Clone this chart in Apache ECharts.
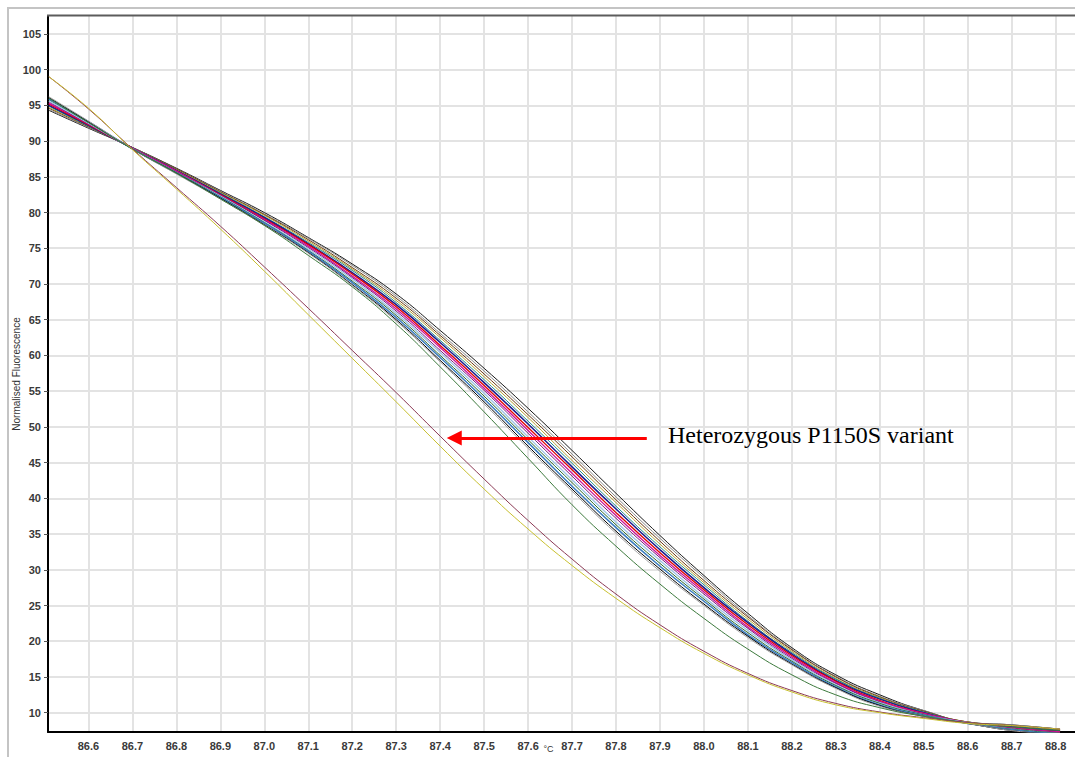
<!DOCTYPE html>
<html>
<head>
<meta charset="utf-8">
<script src="https://cdn.jsdelivr.net/npm/echarts@6/dist/echarts.min.js"></script>
<style>
  html, body { margin: 0; padding: 0; background: #ffffff; overflow: hidden; }
  #chart { width: 1075px; height: 757px; }
</style>
</head>
<body>
<div id="chart"></div>
<script>
// Melt temperatures (°C) at which each normalised curve is sampled
const temps = [86.51, 86.6, 86.7, 86.8, 86.9, 87.0, 87.1, 87.2, 87.3, 87.4, 87.5, 87.6,
               87.7, 87.8, 87.9, 88.0, 88.1, 88.2, 88.3, 88.4, 88.5, 88.6, 88.7, 88.81];

// Tick values for both axes
const xTicks = [86.6, 86.7, 86.8, 86.9, 87.0, 87.1, 87.2, 87.3, 87.4, 87.5, 87.6,
                87.7, 87.8, 87.9, 88.0, 88.1, 88.2, 88.3, 88.4, 88.5, 88.6, 88.7, 88.8];
const yTicks = [10, 15, 20, 25, 30, 35, 40, 45, 50, 55, 60, 65, 70, 75, 80, 85, 90, 95, 100, 105];

// Wild-type samples (normalised fluorescence)
const wt01 = [94.3, 91.8, 89.1, 86.2, 83.1, 80.0, 76.5, 72.8, 68.6, 63.5, 58.2, 52.6, 46.7, 40.7, 34.8, 29.2, 23.9, 19.1, 15.3, 12.5, 10.3, 8.7, 8.3, 7.7];
const wt02 = [94.4, 91.9, 89.1, 86.1, 83.0, 79.8, 76.4, 72.6, 68.3, 63.1, 57.8, 52.1, 46.2, 40.2, 34.4, 28.9, 23.6, 18.9, 15.1, 12.3, 10.3, 8.7, 8.3, 7.7];
const wt03 = [94.6, 92.0, 89.1, 86.1, 82.9, 79.7, 76.2, 72.3, 68.0, 62.8, 57.4, 51.7, 45.8, 39.8, 34.0, 28.5, 23.4, 18.8, 15.0, 12.2, 10.2, 8.7, 8.2, 7.6];
const wt04 = [94.7, 92.1, 89.1, 86.0, 82.8, 79.6, 76.0, 72.1, 67.7, 62.5, 57.0, 51.3, 45.3, 39.4, 33.6, 28.2, 23.1, 18.6, 14.8, 12.1, 10.1, 8.7, 8.1, 7.5];
const wt05 = [94.9, 92.1, 89.1, 85.9, 82.7, 79.4, 75.8, 71.9, 67.4, 62.1, 56.6, 50.8, 44.9, 38.9, 33.2, 27.9, 22.8, 18.4, 14.7, 12.0, 10.1, 8.6, 8.1, 7.5];
const wt06 = [95.0, 92.2, 89.0, 85.9, 82.6, 79.3, 75.6, 71.6, 67.1, 61.8, 56.2, 50.4, 44.4, 38.5, 32.8, 27.5, 22.6, 18.2, 14.5, 11.9, 10.0, 8.6, 8.0, 7.4];
const wt07 = [95.2, 92.3, 89.0, 85.8, 82.5, 79.1, 75.5, 71.4, 66.8, 61.4, 55.8, 49.9, 44.0, 38.0, 32.4, 27.2, 22.3, 18.0, 14.4, 11.7, 9.9, 8.6, 7.9, 7.3];
const wt08 = [95.3, 92.4, 89.0, 85.8, 82.4, 79.0, 75.3, 71.1, 66.5, 61.1, 55.4, 49.5, 43.5, 37.6, 32.0, 26.9, 22.0, 17.8, 14.2, 11.6, 9.9, 8.6, 7.9, 7.3];
const wt09 = [95.5, 92.4, 89.0, 85.7, 82.4, 78.9, 75.1, 70.9, 66.2, 60.7, 55.1, 49.1, 43.1, 37.2, 31.7, 26.6, 21.8, 17.6, 14.1, 11.5, 9.8, 8.6, 7.8, 7.2];
const wt10 = [95.6, 92.5, 88.9, 85.6, 82.3, 78.7, 74.9, 70.7, 65.9, 60.4, 54.7, 48.6, 42.6, 36.7, 31.3, 26.2, 21.5, 17.4, 13.9, 11.4, 9.7, 8.6, 7.7, 7.1];
const wt11 = [95.8, 92.6, 88.9, 85.6, 82.2, 78.6, 74.7, 70.4, 65.6, 60.0, 54.3, 48.2, 42.2, 36.3, 30.9, 25.9, 21.2, 17.2, 13.8, 11.3, 9.7, 8.5, 7.7, 7.1];
const wt12 = [95.9, 92.7, 88.9, 85.5, 82.1, 78.5, 74.6, 70.2, 65.3, 59.7, 53.9, 47.8, 41.7, 35.9, 30.5, 25.6, 20.9, 17.0, 13.6, 11.1, 9.6, 8.5, 7.6, 7.0];
const wt13 = [96.1, 92.7, 88.9, 85.5, 82.0, 78.3, 74.4, 69.9, 65.0, 59.3, 53.5, 47.3, 41.3, 35.4, 30.1, 25.2, 20.7, 16.8, 13.5, 11.0, 9.5, 8.5, 7.5, 6.9];
const wt14 = [96.2, 92.8, 88.9, 85.4, 81.9, 78.2, 74.3, 69.8, 64.8, 59.1, 53.2, 47.0, 41.0, 35.1, 29.8, 25.0, 20.5, 16.7, 13.4, 10.9, 9.5, 8.5, 7.5, 6.9];
// Sample that melts slightly early
const early = [96.0, 92.6, 88.9, 85.5, 81.9, 78.2, 74.0, 69.6, 64.4, 58.4, 52.1, 45.6, 39.1, 33.3, 28.0, 23.2, 18.9, 15.3, 12.5, 10.7, 9.5, 8.6, 8.0, 7.5];
// Heterozygous P1150S carriers
const het1 = [99.0, 94.5, 88.9, 83.5, 78.1, 72.4, 66.6, 60.7, 54.8, 48.7, 42.7, 36.9, 31.5, 26.6, 22.3, 18.6, 15.5, 13.1, 11.3, 10.1, 9.3, 8.6, 8.2, 7.7];
const het2 = [99.0, 94.6, 88.8, 83.3, 77.7, 71.8, 65.7, 59.6, 53.5, 47.3, 41.3, 35.7, 30.6, 26.0, 21.9, 18.3, 15.3, 12.9, 11.1, 10.0, 9.2, 8.5, 8.2, 7.7];

// Annotation arrow: tail and head in data coordinates (°C, fluorescence)
const arrowTail = [87.87, 48.45];
const arrowHead = [87.432, 48.45];

// Line appearance per sample
const curves = [
  { name: 'WT 1',  values: wt01, color: '#1a1a1a', width: 1 },
  { name: 'WT 2',  values: wt02, color: '#8a8a8a', width: 1 },
  { name: 'WT 3',  values: wt03, color: '#6b3a10', width: 1 },
  { name: 'WT 4',  values: wt04, color: '#b5a030', width: 1 },
  { name: 'WT 5',  values: wt05, color: '#1f8a8a', width: 1 },
  { name: 'WT 6',  values: wt06, color: '#1b1b8f', width: 1.5 },
  { name: 'WT 7',  values: wt07, color: '#e00000', width: 1.3 },
  { name: 'WT 8',  values: wt08, color: '#d0109a', width: 1.3 },
  { name: 'WT 9',  values: wt09, color: '#7a1a7a', width: 1 },
  { name: 'WT 10', values: wt10, color: '#9cc2e6', width: 1.3 },
  { name: 'WT 11', values: wt11, color: '#2d6b2d', width: 1 },
  { name: 'WT 12', values: wt12, color: '#3a7cc0', width: 1.5 },
  { name: 'WT 13', values: wt13, color: '#000000', width: 1 },
  { name: 'WT 14', values: wt14, color: '#a0a0a0', width: 1 },
  { name: 'Early', values: early, color: '#3d7a3d', width: 1 },
  { name: 'Het 1', values: het1, color: '#8c3a55', width: 1, arrow: true },
  { name: 'Het 2', values: het2, color: '#c8c030', width: 1 }
];

const tickFont = { fontFamily: 'Liberation Sans, Arial, sans-serif', fontSize: 11, fontWeight: 'bold', color: '#3a3a3a' };

const series = curves.map(function (c) {
  const s = {
    name: c.name,
    type: 'line',
    data: temps.map(function (t, i) { return [t, c.values[i]]; }),
    smooth: true,
    showSymbol: false,
    symbol: 'none',
    clip: true,
    silent: true,
    lineStyle: { color: c.color, width: c.width },
    animation: false
  };
  if (c.arrow) {
    s.markLine = {
      silent: true,
      animation: false,
      symbol: ['none', 'triangle'],
      symbolSize: [15, 15],
      label: { show: false },
      lineStyle: { color: '#ff0000', width: 3, type: 'solid' },
      data: [[{ coord: arrowTail }, { coord: arrowHead }]]
    };
  }
  return s;
});

const chart = echarts.init(document.getElementById('chart'), null, { renderer: 'svg' });
chart.setOption({
  backgroundColor: '#ffffff',
  animation: false,
  grid: { left: 48, top: 16, right: 0, bottom: 25, containLabel: false, outerBoundsMode: 'none' },
  xAxis: {
    type: 'value',
    min: 86.508,
    max: 88.844,
    name: '°C',
    nameLocation: 'middle',
    nameGap: 12,
    nameMoveOverlap: false,
    // right padding nudges the unit into the gap between two tick labels
    nameTextStyle: { fontFamily: 'Liberation Sans, Arial, sans-serif', fontSize: 9, lineHeight: 10, color: '#333', padding: [0, 26, 0, 0] },
    axisLine: { onZero: false, lineStyle: { color: '#000000', width: 2 } },
    axisTick: { show: false, customValues: xTicks },
    axisLabel: {
      customValues: xTicks,
      margin: 8,
      formatter: function (v) { return v.toFixed(1); },
      fontFamily: tickFont.fontFamily, fontSize: tickFont.fontSize, fontWeight: tickFont.fontWeight, color: tickFont.color
    },
    splitLine: { show: true, lineStyle: { color: '#e3e3e3', width: 2 } }
  },
  yAxis: {
    type: 'value',
    min: 7.3,
    max: 107.5,
    name: 'Normalised Fluorescence',
    nameLocation: 'middle',
    nameRotate: 90,
    nameGap: 27,
    nameMoveOverlap: false,
    nameTextStyle: { fontFamily: 'Liberation Sans, Arial, sans-serif', fontSize: 10, color: '#333' },
    axisLine: { show: true, onZero: false, lineStyle: { color: '#000000', width: 2 } },
    axisTick: { show: true, length: 4, customValues: yTicks, lineStyle: { color: '#555555' } },
    axisLabel: {
      customValues: yTicks,
      margin: 7,
      fontFamily: tickFont.fontFamily, fontSize: tickFont.fontSize, fontWeight: tickFont.fontWeight, color: tickFont.color
    },
    splitLine: { show: true, lineStyle: { color: '#e3e3e3', width: 2 } }
  },
  graphic: [
    {
      type: 'rect', silent: true, z: 100,
      shape: { x: 8, y: 8, width: 1100, height: 800 },
      style: { fill: 'none', stroke: '#c4c4c4', lineWidth: 2 }
    },
    {
      type: 'line', silent: true, z: 100,
      shape: { x1: 47, y1: 15.5, x2: 1075, y2: 15.5 },
      style: { stroke: '#5c5c5c', lineWidth: 2 }
    },
    {
      type: 'text', silent: true, z: 100,
      x: 668, y: 435,
      style: {
        text: 'Heterozygous P1150S variant',
        font: '24px "Liberation Serif", "Times New Roman", serif',
        fill: '#000000',
        align: 'left',
        verticalAlign: 'middle'
      }
    }
  ],
  series: series
});
</script>
</body>
</html>
